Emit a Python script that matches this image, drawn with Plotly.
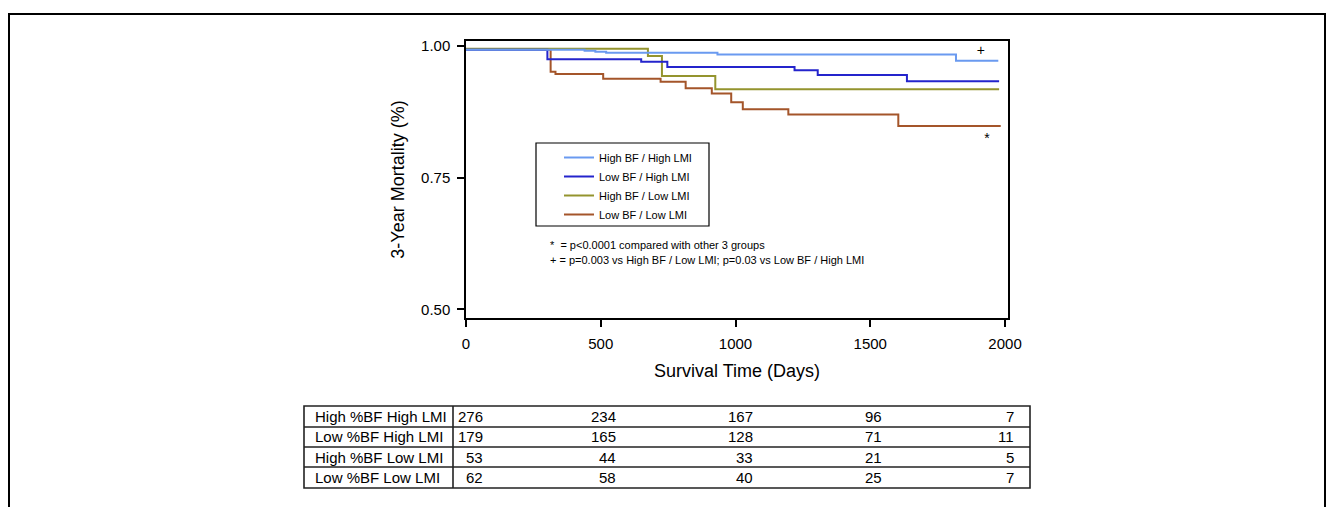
import plotly.graph_objects as go

# ---- Kaplan-Meier step data (time in days, survival proportion) ----
hh_t = [0, 440, 480, 520, 933, 1818, 1975]
hh_s = [0.993, 0.991, 0.989, 0.987, 0.984, 0.972, 0.972]
lh_t = [0, 302, 650, 747, 1219, 1305, 1636, 1978]
lh_s = [0.993, 0.975, 0.970, 0.960, 0.954, 0.945, 0.933, 0.933]
hl_t = [0, 675, 727, 925, 1978]
hl_s = [0.995, 0.981, 0.943, 0.918, 0.918]
ll_t = [0, 314, 332, 509, 722, 815, 912, 984, 1027, 1196, 1604, 1984]
ll_s = [0.993, 0.951, 0.947, 0.938, 0.932, 0.920, 0.910, 0.893, 0.880, 0.870, 0.848, 0.848]

group_names = ["High BF / High LMI", "Low BF / High LMI", "High BF / Low LMI", "Low BF / Low LMI"]
group_colors = ["#6A9AF0", "#2424CC", "#94942E", "#A4552A"]

sig_t = [1910, 1933]
sig_s = [0.989, 0.822]
sig_txt = ["+", "*"]

note_lines = ["*\u00a0\u00a0= p<0.0001 compared with other 3 groups",
              "+ = p=0.003 vs High BF / Low LMI; p=0.03 vs Low BF / High LMI"]

x_ticks = [0, 500, 1000, 1500, 2000]
y_ticks = [0.50, 0.75, 1.00]
y_ticklabels = ["0.50", "0.75", "1.00"]

risk_labels = ["High %BF High LMI", "Low %BF High LMI", "High %BF Low LMI", "Low %BF Low LMI"]
risk_times = [0, 500, 1000, 1500, 2000]
risk_counts = [
    [276, 234, 167, 96, 7],
    [179, 165, 128, 71, 11],
    [53, 44, 33, 21, 5],
    [62, 58, 40, 25, 7],
]

FONT = "Liberation Sans, Arial, Helvetica, sans-serif"

# page has an 8px body margin; work in window pixels and convert
OFF = 8
W, H = 1334 - 2 * OFF, 515 - 2 * OFF
L, R, T, B = 466 - OFF, 1008 - OFF, 41 - OFF, 318 - OFF


def px(x):
    return (x - OFF - L) / (R - L)


def py(y):
    return (B - (y - OFF)) / (B - T)


series = [(hh_t, hh_s), (lh_t, lh_s), (hl_t, hl_s), (ll_t, ll_s)]

fig = go.Figure()
# add in reverse so the light blue line is drawn on top
for i in reversed(range(4)):
    t, s = series[i]
    fig.add_trace(go.Scatter(
        x=t, y=s, mode="lines", line_shape="hv",
        line=dict(color=group_colors[i], width=2),
        name=group_names[i],
    ))

fig.add_trace(go.Scatter(
    x=sig_t, y=sig_s, mode="text", text=sig_txt,
    textfont=dict(family=FONT, size=14, color="black"),
    textposition="middle center", showlegend=False, hoverinfo="skip",
))

shapes = []
annotations = []

# legend box
shapes.append(dict(type="rect", xref="paper", yref="paper",
                   x0=px(536), x1=px(709), y0=py(226), y1=py(143),
                   line=dict(color="black", width=1.2), fillcolor="rgba(0,0,0,0)"))

# notes
for k, txt in enumerate(note_lines):
    annotations.append(dict(xref="paper", yref="paper", x=px(548), y=py(245 + 15 * k),
                            xanchor="left", yanchor="middle", text=txt, showarrow=False,
                            font=dict(family=FONT, size=11, color="black")))

# number-at-risk table
tb_left, tb_div, tb_right = 304, 453, 1030
row_lines = [406, 427, 447, 467, 488]
shapes.append(dict(type="rect", xref="paper", yref="paper",
                   x0=px(tb_left), x1=px(tb_right), y0=py(row_lines[-1]), y1=py(row_lines[0]),
                   line=dict(color="#222", width=1.6)))
shapes.append(dict(type="line", xref="paper", yref="paper",
                   x0=px(tb_div), x1=px(tb_div), y0=py(row_lines[-1]), y1=py(row_lines[0]),
                   line=dict(color="#222", width=1.6)))
for yl in row_lines[1:-1]:
    shapes.append(dict(type="line", xref="paper", yref="paper",
                       x0=px(tb_left), x1=px(tb_right), y0=py(yl), y1=py(yl),
                       line=dict(color="#222", width=1.4)))
col_shift = [19, 17, 19, 14, 11]
for r, lab in enumerate(risk_labels):
    yc = (row_lines[r] + row_lines[r + 1]) / 2
    annotations.append(dict(xref="paper", yref="paper", x=px(313), y=py(yc),
                            xanchor="left", yanchor="middle", text=lab, showarrow=False,
                            font=dict(family=FONT, size=15, color="black")))
    for c, tm in enumerate(risk_times):
        annotations.append(dict(xref="x", yref="paper", x=tm, y=py(yc), xshift=col_shift[c],
                                xanchor="right", yanchor="middle", text=str(risk_counts[r][c]),
                                showarrow=False, font=dict(family=FONT, size=15, color="black")))

# outer frame (kept inside the figure canvas)
shapes.append(dict(type="rect", xref="paper", yref="paper",
                   x0=px(OFF + 1), x1=px(OFF + W - 1), y0=py(540), y1=py(14),
                   line=dict(color="black", width=2)))

axis_common = dict(
    showline=True, linecolor="black", linewidth=1.5, mirror=True,
    ticks="outside", ticklen=7, tickwidth=1.5, tickcolor="black",
    showgrid=False, zeroline=False,
    tickfont=dict(family=FONT, size=15, color="black"),
)

fig.update_layout(
    width=W, height=H,
    margin=dict(l=L, r=W - R, t=T, b=H - B, autoexpand=False),
    paper_bgcolor="white", plot_bgcolor="white",
    font=dict(family=FONT, color="black"),
    xaxis=dict(range=[0, 2011], tickvals=x_ticks, ticklabelstandoff=4,
               title=dict(text="Survival Time (Days)", font=dict(family=FONT, size=18, color="black"),
                          standoff=14),
               automargin=False, **axis_common),
    yaxis=dict(range=[0.4835, 1.0095], tickvals=y_ticks, ticktext=y_ticklabels,
               ticklabelstandoff=4,
               title=dict(text="3-Year Mortality (%)", font=dict(family=FONT, size=18, color="black"),
                          standoff=12),
               automargin=False, **axis_common),
    legend=dict(x=px(559), y=py(143), xanchor="left", yanchor="top",
                bgcolor="rgba(0,0,0,0)", borderwidth=0, traceorder="reversed",
                font=dict(family=FONT, size=11, color="black")),
    shapes=shapes, annotations=annotations,
    showlegend=True,
)

fig.write_html("out.html")
